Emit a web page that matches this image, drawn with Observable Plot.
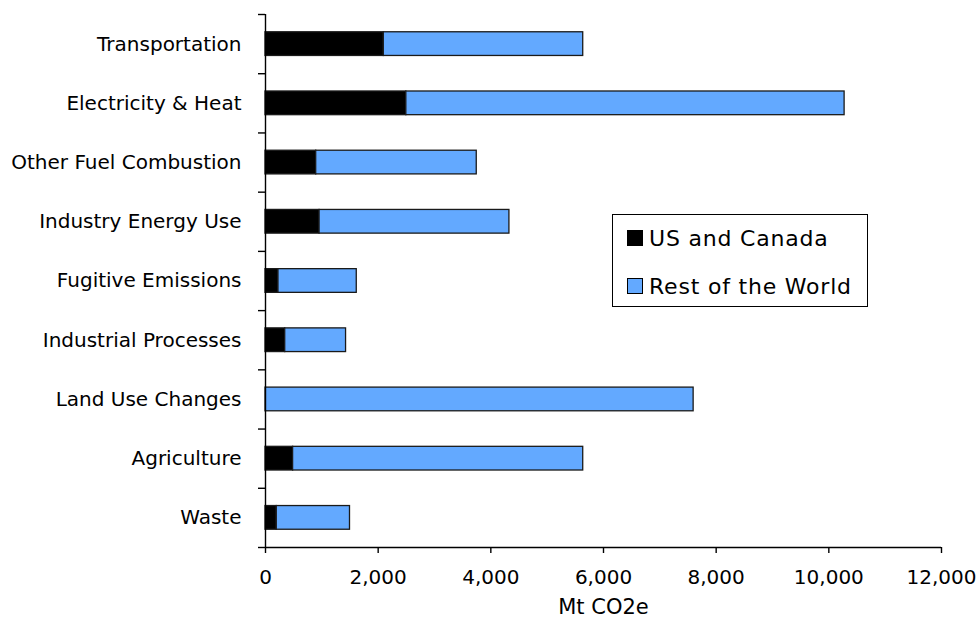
<!DOCTYPE html>
<html><head><meta charset="utf-8">
<script src="https://cdn.jsdelivr.net/npm/d3@7"></script>
<script src="https://cdn.jsdelivr.net/npm/@observablehq/plot@0.6"></script>
<style>
body{margin:0;background:#fff;}
#wrap{position:relative;width:980px;height:620px;font-family:"DejaVu Sans",Verdana,sans-serif;}
#legend{position:absolute;left:612px;top:214px;width:254px;height:91px;border:1.5px solid #000;background:#fff;}
.item{position:absolute;left:14px;height:18px;display:flex;align-items:center;font-size:22px;letter-spacing:0.8px;color:#000;white-space:nowrap;}
.sw{width:14px;height:14px;border:1px solid #000;margin-right:6px;flex:none;}
</style></head>
<body><div id="wrap"><div id="legend"></div></div>
<script>
const categories = ["Transportation","Electricity & Heat","Other Fuel Combustion","Industry Energy Use","Fugitive Emissions","Industrial Processes","Land Use Changes","Agriculture","Waste"];
const usCanada = [2100, 2500, 900, 960, 230, 350, 0, 490, 200];
const restOfWorld = [3540, 7780, 2850, 3370, 1390, 1080, 7600, 5150, 1300];
const seriesNames = ["US and Canada", "Rest of the World"];
const seriesColors = ["#000000", "#63a9ff"];
const xTicks = [0, 2000, 4000, 6000, 8000, 10000, 12000];
const xLabel = "Mt CO2e";

const rows = categories.flatMap((c, i) => [
  {category: c, i, series: seriesNames[0], x1: 0, x2: usCanada[i]},
  {category: c, i, series: seriesNames[1], x1: usCanada[i], x2: usCanada[i] + restOfWorld[i]}
]).filter(d => d.x2 > d.x1);

const chart = Plot.plot({
  width: 980, height: 620,
  marginLeft: 265, marginRight: 39, marginTop: 14, marginBottom: 73,
  style: {fontFamily: "'DejaVu Sans', Verdana, sans-serif", fontSize: "20px", color: "#000", background: "#fff"},
  x: {domain: [0, 12000]},
  y: {domain: [0, categories.length], reverse: true},
  color: {domain: seriesNames, range: seriesColors},
  marks: [
    Plot.rectX(rows, {x1: "x1", x2: "x2", y1: d => d.i + 0.3, y2: d => d.i + 0.7, fill: "series", stroke: "#1a1a1a", strokeWidth: 1.3}),
    Plot.ruleX([0], {stroke: "#000", strokeWidth: 1.4}),
    Plot.ruleY([categories.length], {stroke: "#000", strokeWidth: 1.4}),
    Plot.axisX(xTicks, {tickFormat: d3.format(","), tickSize: 6, tickPadding: 16, strokeWidth: 1.4, fontSize: 20}),
    Plot.axisX([6000], {tickSize: 0, tickFormat: () => "", label: xLabel, labelAnchor: "center", labelArrow: "none", labelOffset: 66, fontSize: 21}),
    Plot.axisY(d3.range(categories.length + 1), {tickSize: 7, tickFormat: () => "", strokeWidth: 1.4, label: null}),
    Plot.axisY(d3.range(categories.length).map(i => i + 0.5), {tickSize: 0, tickPadding: 24, tickFormat: d => categories[Math.floor(d)], label: null, fontSize: 20})
  ]
});
document.getElementById("wrap").prepend(chart);

const legend = document.getElementById("legend");
seriesNames.forEach((name, k) => {
  const item = document.createElement("div");
  item.className = "item";
  item.style.top = (k === 0 ? 14 : 62) + "px";
  const sw = document.createElement("span");
  sw.className = "sw";
  sw.style.background = seriesColors[k];
  item.appendChild(sw);
  item.appendChild(document.createTextNode(name));
  legend.appendChild(item);
});
</script>
</body></html>
